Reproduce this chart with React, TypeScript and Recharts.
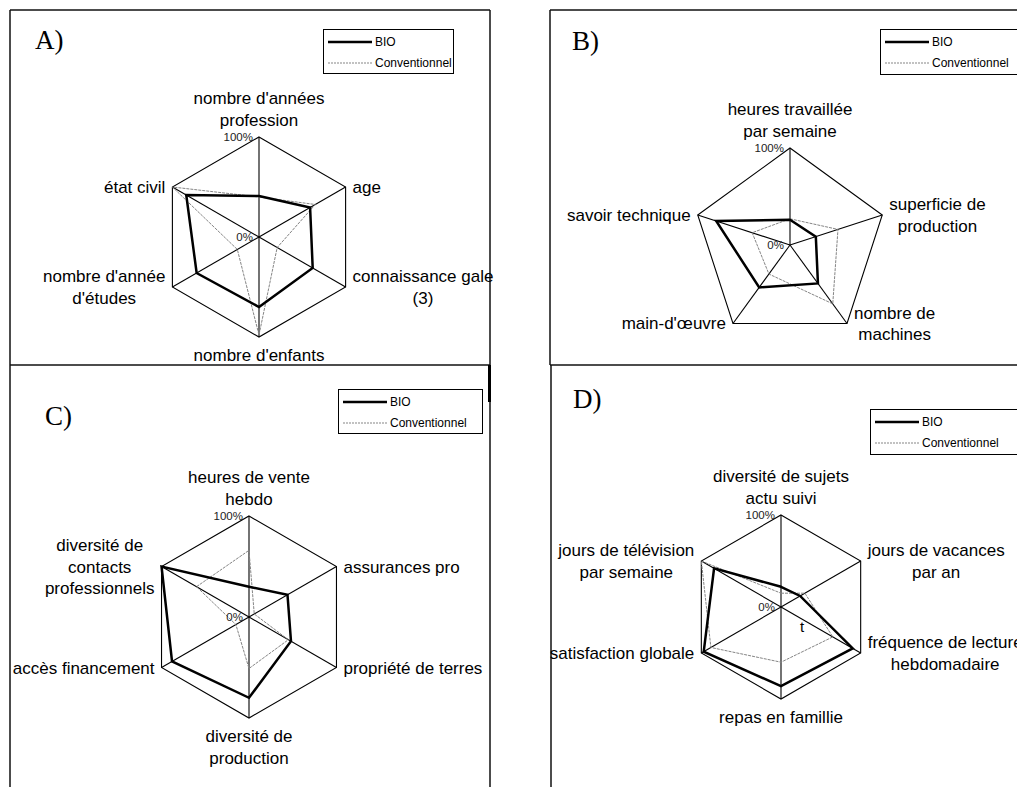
import { PolarAngleAxis, PolarGrid, PolarRadiusAxis, Radar, RadarChart } from "recharts";

const W = 1017;
const H = 787;

const catsA = ["nombre d'années\nprofession", "age", "connaissance gale\n(3)", "nombre d'enfants", "nombre d'année\nd'études", "état civil"];
const bioA = [41, 59, 62, 70, 72, 84];
const convA = [40, 65, 21, 98, 25, 100];

const catsB = ["heures travaillée\npar semaine", "superficie de\nproduction", "nombre de\nmachines", "main-d'œuvre", "savoir technique"];
const bioB = [26, 28, 49, 54, 80];
const convB = [27, 52, 75, 37, 41];

const catsC = ["heures de vente\nhebdo", "assurances pro", "propriété de terres", "diversité de\nproduction", "accès financement", "diversité de\ncontacts\nprofessionnels"];
const bioC = [30, 44, 48, 80, 88, 100];
const convC = [66, 6, 45, 51, 15, 60];

const catsD = ["diversité de sujets\nactu suivi", "jours de vacances\npar an", "fréquence de lecture\nhebdomadaire", "repas en famillie", "satisfaction globale", "jours de télévision\npar semaine"];
const bioD = [22, 24, 90, 86, 97, 84];
const convD = [15, 30, 65, 60, 88, 100];

const radiusTicks = [0, 100];
const seriesNames = ["BIO", "Conventionnel"];

const SANS = "'Liberation Sans', Arial, sans-serif";
const LABEL_SIZE = 17;
const LH = 21.7;
const GAP = 7;
const CONV_COLOR = "#858585";

let ctx: CanvasRenderingContext2D | null = null;
function textWidth(s: string) {
  if (!ctx) ctx = document.createElement("canvas").getContext("2d");
  if (!ctx) return s.length * 8.5;
  ctx.font = `${LABEL_SIZE}px ${SANS}`;
  return ctx.measureText(s).width;
}

function build(cats: string[], bio: number[], conv: number[]) {
  return cats.map((axis, i) => ({ axis, bio: bio[i], conv: conv[i] }));
}

// excel-style labels: centred lines, block placed beside the vertex
function angleTick(cx: number, cy: number, r: number, n: number) {
  return (props: any) => {
    const { payload, index } = props;
    const deg = typeof payload?.coordinate === "number" ? payload.coordinate : 90 - (360 * index) / n;
    const a = (deg * Math.PI) / 180;
    const c = Math.cos(a);
    const s = Math.sin(a);
    const vx = cx + r * c;
    const vy = cy - r * s;
    const lines = String(payload.value).split("\n");
    const w = Math.max(...lines.map(textWidth));
    let x = vx;
    if (c > 0.01) x = vx + GAP + w / 2;
    else if (c < -0.01) x = vx - GAP - w / 2;
    let y0: number;
    if (Math.abs(c) > 0.01) y0 = vy - ((lines.length - 1) * LH) / 2;
    else if (s > 0) y0 = vy - 17 - (lines.length - 1) * LH;
    else y0 = vy + 18;
    return (
      <text textAnchor="middle" dominantBaseline="central" fontFamily={SANS} fontSize={LABEL_SIZE} fill="#000">
        {lines.map((l, i) => (
          <tspan key={i} x={x} y={y0 + i * LH}>
            {l}
          </tspan>
        ))}
      </text>
    );
  };
}

function radiusTick(props: any) {
  return (
    <text x={props.x - 6} y={props.y} textAnchor="end" dominantBaseline="central" fontFamily={SANS} fontSize={11.5} fill="#222">
      {props.payload.value}%
    </text>
  );
}

function Panel({ cats, bio, conv, cx, cy, r }: { cats: string[]; bio: number[]; conv: number[]; cx: number; cy: number; r: number }) {
  const data = build(cats, bio, conv);
  return (
    <div style={{ position: "absolute", left: 0, top: 0 }}>
      <RadarChart width={W} height={H} data={data} cx={cx} cy={cy} outerRadius={r} margin={{ top: 0, right: 0, bottom: 0, left: 0 }}>
        <PolarGrid gridType="polygon" stroke="#000" strokeWidth={1.1} />
        <PolarAngleAxis dataKey="axis" tick={angleTick(cx, cy, r, cats.length)} tickLine={false} axisLine={false} />
        <PolarRadiusAxis angle={90} domain={[0, 100]} ticks={radiusTicks as any} tickCount={2} axisLine={false} tickLine={false} tick={radiusTick} />
        <Radar name={seriesNames[1]} dataKey="conv" stroke={CONV_COLOR} strokeWidth={1} strokeDasharray="3 1" fill="none" fillOpacity={0} dot={false} isAnimationActive={false} />
        <Radar name={seriesNames[0]} dataKey="bio" stroke="#000" strokeWidth={2.5} fill="none" fillOpacity={0} dot={false} isAnimationActive={false} />
      </RadarChart>
    </div>
  );
}

function LegendBox({ left, top, width, height }: { left: number; top: number; width: number; height: number }) {
  const row = (i: number) => (
    <div key={i} style={{ position: "absolute", left: 0, top: i === 0 ? 3 : 24, height: 18, width: "100%" }}>
      <svg width={50} height={18} style={{ position: "absolute", left: 0, top: 0 }}>
        {i === 0 ? (
          <line x1={4} x2={48} y1={9} y2={9} stroke="#000" strokeWidth={2.5} />
        ) : (
          <line x1={4} x2={48} y1={9} y2={9} stroke={CONV_COLOR} strokeWidth={1} strokeDasharray="2 1" />
        )}
      </svg>
      <span style={{ position: "absolute", left: 51, top: 0, lineHeight: "18px", fontSize: 12, fontFamily: SANS, whiteSpace: "nowrap" }}>
        {seriesNames[i]}
      </span>
    </div>
  );
  return (
    <div style={{ position: "absolute", left, top, width, height, border: "1px solid #000", boxSizing: "border-box", background: "#fff" }}>
      {row(0)}
      {row(1)}
    </div>
  );
}

function Title({ text, left, top }: { text: string; left: number; top: number }) {
  return (
    <div style={{ position: "absolute", left, top, fontFamily: "'Liberation Serif', 'Times New Roman', serif", fontSize: 27, lineHeight: "27px" }}>
      {text}
    </div>
  );
}

export default function App() {
  return (
    <div style={{ position: "absolute", left: 0, top: 0, width: W, height: H, overflow: "hidden", background: "#fff" }}>
      <style>{`.recharts-surface{overflow:visible}`}</style>
      <svg width={W} height={H} style={{ position: "absolute", left: 0, top: 0 }}>
        <g stroke="#111" strokeWidth={1.5} fill="none">
          <line x1={10} y1={10} x2={490} y2={10} />
          <line x1={10} y1={10} x2={10} y2={H} />
          <line x1={490} y1={10} x2={490} y2={H} />
          <line x1={10} y1={365} x2={490} y2={365} />
          <line x1={550} y1={10} x2={W} y2={10} />
          <line x1={550} y1={10} x2={550} y2={365} />
          <line x1={550} y1={365} x2={W} y2={365} />
          <line x1={551} y1={365} x2={551} y2={H} />
        </g>
        <line x1={489.5} y1={365} x2={489.5} y2={402} stroke="#000" strokeWidth={3} />
      </svg>

      <Panel cats={catsA} bio={bioA} conv={convA} cx={259} cy={237} r={100} />
      <Panel cats={catsB} bio={bioB} conv={convB} cx={790} cy={245} r={97} />
      <Panel cats={catsC} bio={bioC} conv={convC} cx={249} cy={617} r={101} />
      <Panel cats={catsD} bio={bioD} conv={convD} cx={781} cy={607} r={92} />

      <svg width={W} height={H} style={{ position: "absolute", left: 0, top: 0, pointerEvents: "none" }}>
        <text x={802} y={626} textAnchor="middle" dominantBaseline="central" fontFamily={SANS} fontSize={15}>
          t
        </text>
      </svg>

      <Title text="A)" left={35} top={27} />
      <Title text="B)" left={572} top={28} />
      <Title text="C)" left={45} top={403} />
      <Title text="D)" left={573} top={386} />

      <LegendBox left={323} top={29} width={131} height={45} />
      <LegendBox left={880} top={29} width={150} height={46} />
      <LegendBox left={338} top={389} width={145} height={45} />
      <LegendBox left={870} top={409} width={150} height={46} />
    </div>
  );
}
